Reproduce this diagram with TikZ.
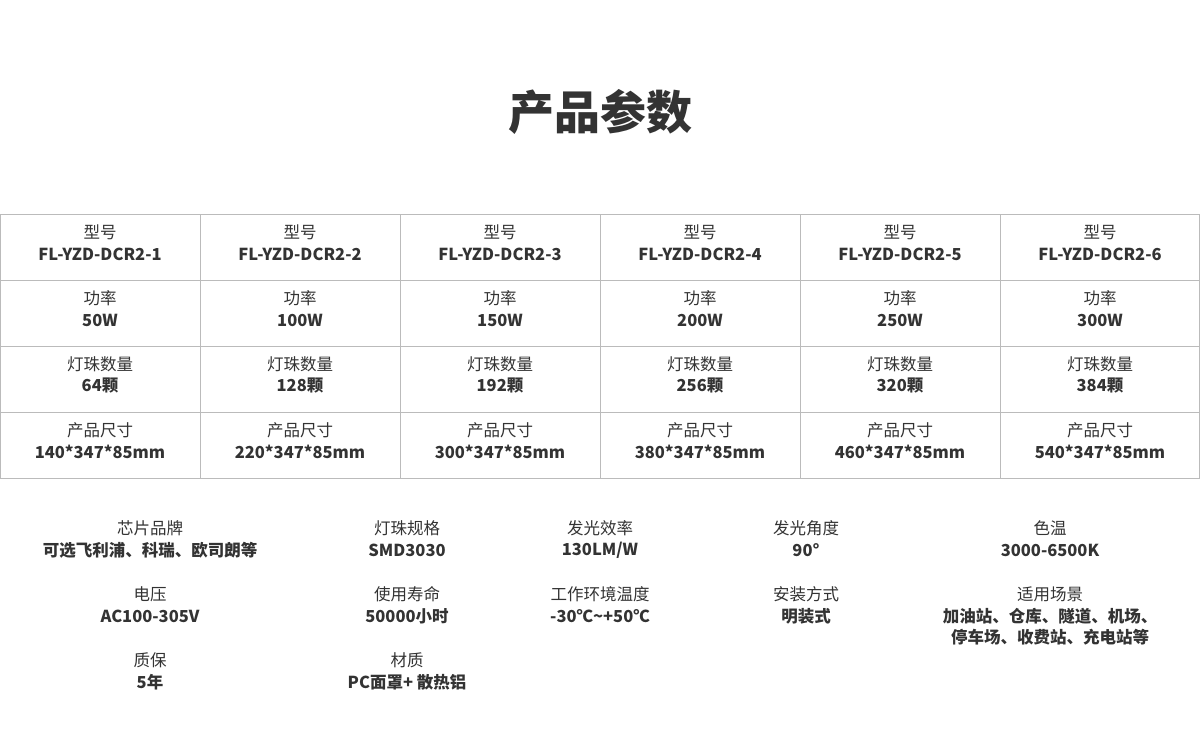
\documentclass[tikz,border=0pt]{standalone}
\usepackage{fontspec}
\setmainfont{Noto Sans CJK SC}
\definecolor{txt}{HTML}{333333}
\definecolor{grid}{HTML}{BBBBBB}
\begin{document}
\begin{tikzpicture}[x=1pt,y=-1pt,
  lab/.style={text=txt,font=\fontsize{16.5}{18}\selectfont,inner sep=0pt,anchor=center},
  val/.style={text=txt,font=\fontsize{16.5}{18}\selectfont\bfseries,inner sep=0pt,anchor=center}]
\useasboundingbox (0,0) rectangle (1200,732);
\node[text=txt,font=\fontsize{46}{50}\selectfont\bfseries] (title) at (600,112) {产品参数};
\draw[grid,line width=1pt] (0.5,214) rectangle (1199.5,478);
\foreach \y in {280,346,412} \draw[grid,line width=1pt] (0,\y) -- (1200,\y);
\foreach \x in {200,400,600,800,1000} \draw[grid,line width=1pt] (\x,214) -- (\x,478);
\foreach \i/\m/\p/\n/\s in {0/1/50W/64/140,1/2/100W/128/220,2/3/150W/192/300,3/4/200W/256/380,4/5/250W/320/460,5/6/300W/384/540}{
  \pgfmathsetmacro\cx{100+200*\i}
  \node[lab] (a\i) at (\cx,232) {型号};
  \node[val] (b\i) at (\cx,254) {FL-YZD-DCR2-\m};
  \node[lab] (c\i) at (\cx,298) {功率};
  \node[val] (d\i) at (\cx,320) {\p};
  \node[lab] (e\i) at (\cx,364) {灯珠数量};
  \node[val] (f\i) at (\cx,386) {\n 颗};
  \node[lab] (g\i) at (\cx,430) {产品尺寸};
  \node[val] (h\i) at (\cx,452) {\s*347*85mm};
}
\node[lab] (p1) at (150,528) {芯片品牌};
\node[val] (q1) at (150,550) {可选飞利浦、科瑞、欧司朗等};
\node[lab] (p2) at (407,528) {灯珠规格};
\node[val] (q2) at (407,550) {SMD3030};
\node[lab] (p3) at (600,528) {发光效率};
\node[val] (q3) at (600,550) {130LM/W};
\node[lab] (p4) at (806,528) {发光角度};
\node[val] (q4) at (806,550) {90°};
\node[lab] (p5) at (1050,528) {色温};
\node[val] (q5) at (1050,550) {3000-6500K};
\node[lab] (r1) at (150,594) {电压};
\node[val] (s1) at (150,616) {AC100-305V};
\node[lab] (r2) at (407,594) {使用寿命};
\node[val] (s2) at (407,616) {50000小时};
\node[lab] (r3) at (600,594) {工作环境温度};
\node[val] (s3) at (600,616) {-30℃\textasciitilde+50℃};
\node[lab] (r4) at (806,594) {安装方式};
\node[val] (s4) at (806,616) {明装式};
\node[lab] (r5) at (1050,594) {适用场景};
\node[val,align=center,font=\fontsize{16.5}{21}\selectfont\bfseries] (s5) at (1050,627) {加油站、仓库、隧道、机场、\\停车场、收费站、充电站等};
\node[lab] (t1) at (150,660) {质保};
\node[val] (u1) at (150,682) {5年};
\node[lab] (t2) at (407,660) {材质};
\node[val] (u2) at (407,682) {PC面罩+ 散热铝};
\end{tikzpicture}
\end{document}
